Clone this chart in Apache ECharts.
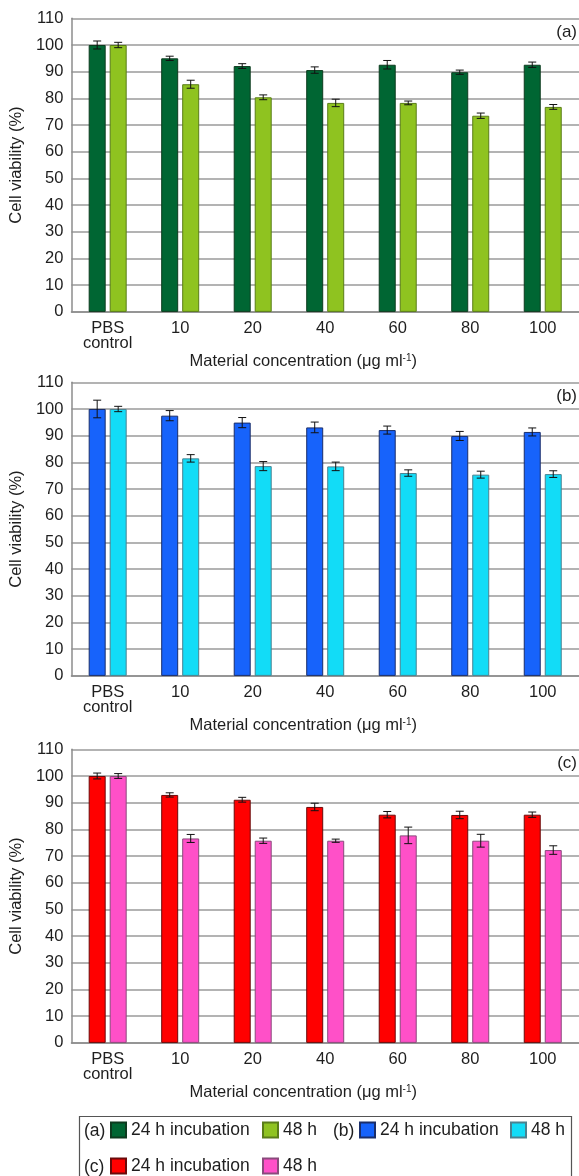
<!DOCTYPE html>
<html>
<head>
<meta charset="utf-8">
<script src="https://cdn.jsdelivr.net/npm/echarts@6/dist/echarts.min.js"></script>
<style>
html,body{margin:0;padding:0;background:#fff;}
#chart{width:579px;height:1176px;}
</style>
</head>
<body>
<div id="chart"></div>
<script>
// ---- data ----
const categories = ['PBS\ncontrol', '10', '20', '40', '60', '80', '100'];
const panelLabels = ['(a)', '(b)', '(c)'];
const seriesNames = ['24 h incubation', '48 h'];

const a24 = [100, 95.0, 92.1, 90.6, 92.6, 89.8, 92.6];
const a24Err = [1.5, 0.8, 0.9, 1.2, 1.6, 0.8, 1.0];
const a48 = [100, 85.3, 80.4, 78.3, 78.3, 73.5, 76.8];
const a48Err = [1.0, 1.5, 0.9, 1.4, 0.7, 1.0, 0.9];

const b24 = [100, 97.5, 94.9, 93.1, 92.1, 89.9, 91.4];
const b24Err = [3.3, 1.9, 1.9, 2.0, 1.5, 1.7, 1.5];
const b48 = [100, 81.5, 78.6, 78.5, 76.0, 75.4, 75.6];
const b48Err = [1.0, 1.4, 1.7, 1.6, 1.2, 1.3, 1.25];

const c24 = [100, 92.9, 91.1, 88.4, 85.5, 85.4, 85.5];
const c24Err = [1.1, 0.8, 0.9, 1.4, 1.2, 1.4, 1.0];
const c48 = [100, 76.6, 75.75, 75.75, 77.75, 75.75, 72.25];
const c48Err = [0.9, 1.5, 1.0, 0.6, 3.1, 2.4, 1.6];

// ---- styles ----
const FONT = 'Liberation Sans, Arial, sans-serif';
const TXT = '#1e1e1e';
const BAR_W = 17, BAR_GAP_PX = 4;
const panels = [
  {d24: a24, e24: a24Err, d48: a48, e48: a48Err,
   c24: '#006633', b24: '#0d3b1f', c48: '#8fc320', b48: '#5a7d18'},
  {d24: b24, e24: b24Err, d48: b48, e48: b48Err,
   c24: '#1763fb', b24: '#1b2e6a', c48: '#12dcf7', b48: '#4a8290'},
  {d24: c24, e24: c24Err, d48: c48, e48: c48Err,
   c24: '#ff0000', b24: '#6a0a0a', c48: '#ff50c8', b48: '#8a4a7c'}
];
const gridTops = [18.3, 382.3, 749.3];
const gridH = 293.6;

const grids = [], xAxes = [], yAxes = [], series = [], graphics = [];

function errRender(offset) {
  return function (params, api) {
    const x = api.value(0), v = api.value(1), e = api.value(2);
    const top = api.coord([x, v + e]);
    const bot = api.coord([x, v - e]);
    const cx = top[0] + offset;
    const cap = 4;
    const st = {stroke: '#111', lineWidth: 1};
    return {
      type: 'group',
      children: [
        {type: 'line', shape: {x1: cx, y1: top[1], x2: cx, y2: bot[1]}, style: st},
        {type: 'line', shape: {x1: cx - cap, y1: top[1], x2: cx + cap, y2: top[1]}, style: st},
        {type: 'line', shape: {x1: cx - cap, y1: bot[1], x2: cx + cap, y2: bot[1]}, style: st}
      ]
    };
  };
}

panels.forEach((p, i) => {
  grids.push({left: 65, right: -5, top: gridTops[i], height: gridH, containLabel: false});
  xAxes.push({
    type: 'category', gridIndex: i, data: categories,
    axisLine: {show: true, lineStyle: {color: '#8c8c8c', width: 1.5}},
    axisTick: {show: false},
    axisLabel: {color: TXT, fontSize: 16.5, fontFamily: FONT, lineHeight: 15, margin: 9, interval: 0},
    name: 'Material concentration (μg ml{sup|-1})',
    nameLocation: 'middle', nameGap: 27,
    nameTextStyle: {color: TXT, fontSize: 16.5, fontFamily: FONT, padding: [0, 44, 0, 0],
      rich: {sup: {fontSize: 10, fontFamily: FONT, color: TXT, verticalAlign: 'top', lineHeight: 10}}}
  });
  yAxes.push({
    type: 'value', gridIndex: i, min: 0, max: 110, interval: 10,
    axisLine: {show: true, lineStyle: {color: '#8c8c8c', width: 1.5}},
    axisTick: {show: false},
    splitLine: {show: true, lineStyle: {color: '#9a9a9a', width: 1.5}},
    axisLabel: {color: TXT, fontSize: 16.5, fontFamily: FONT, margin: 8},
    name: 'Cell viability (%)', nameLocation: 'middle', nameGap: 36,
    nameTextStyle: {color: TXT, fontSize: 16.5, fontFamily: FONT}
  });
  const tag = panelLabels[i] + ' ';
  series.push({
    name: tag + seriesNames[0], type: 'bar', xAxisIndex: i, yAxisIndex: i,
    data: p.d24, barWidth: BAR_W, barGap: (BAR_GAP_PX / BAR_W * 100) + '%',
    itemStyle: {color: p.c24, borderColor: p.b24, borderWidth: 1}, z: 3
  });
  series.push({
    name: tag + seriesNames[1], type: 'bar', xAxisIndex: i, yAxisIndex: i,
    data: p.d48, barWidth: BAR_W,
    itemStyle: {color: p.c48, borderColor: p.b48, borderWidth: 1}, z: 3
  });
  const off = (BAR_W + BAR_GAP_PX) / 2;
  series.push({
    type: 'custom', xAxisIndex: i, yAxisIndex: i, z: 5, silent: true,
    renderItem: errRender(-off),
    data: p.d24.map((v, k) => [k, v, p.e24[k]])
  });
  series.push({
    type: 'custom', xAxisIndex: i, yAxisIndex: i, z: 5, silent: true,
    renderItem: errRender(off),
    data: p.d48.map((v, k) => [k, v, p.e48[k]])
  });
  graphics.push({
    type: 'text', right: 2, top: gridTops[i] + 6,
    style: {text: panelLabels[i], fill: TXT, font: '17px ' + FONT}
  });
});

// legend box + prefixes
graphics.push({type: 'rect', shape: {x: 79.5, y: 1116.5, width: 492, height: 80},
  style: {fill: 'none', stroke: '#555', lineWidth: 1.2}});
const legendRows = [1131, 1167];
graphics.push({type: 'text', x: 84, y: legendRows[0], style: {text: '(a)', fill: TXT, font: '17.5px ' + FONT, verticalAlign: 'middle'}});
graphics.push({type: 'text', x: 333, y: legendRows[0], style: {text: '(b)', fill: TXT, font: '17.5px ' + FONT, verticalAlign: 'middle'}});
graphics.push({type: 'text', x: 84, y: legendRows[1], style: {text: '(c)', fill: TXT, font: '17.5px ' + FONT, verticalAlign: 'middle'}});

const legendBase = {
  icon: 'rect', itemWidth: 15, itemHeight: 15, padding: 0, selectedMode: false,
  textStyle: {color: TXT, fontSize: 17.5, fontFamily: FONT},
  formatter: n => n.replace(/^\([abc]\) /, '')
};
const lt = legendRows.map(r => r - 10);
const legends = [
  ['(a) 24 h incubation', 110, lt[0]], ['(a) 48 h', 262, lt[0]],
  ['(b) 24 h incubation', 359, lt[0]], ['(b) 48 h', 510, lt[0]],
  ['(c) 24 h incubation', 110, lt[1]], ['(c) 48 h', 262, lt[1]]
].map(([n, l, t]) => Object.assign({}, legendBase, {data: [n], left: l, top: t}));

const chart = echarts.init(document.getElementById('chart'), null, {renderer: 'canvas'});
chart.setOption({
  backgroundColor: '#fff',
  animation: false,
  textStyle: {fontFamily: FONT},
  grid: grids, xAxis: xAxes, yAxis: yAxes, series: series,
  legend: legends, graphic: graphics
});
</script>
</body>
</html>
